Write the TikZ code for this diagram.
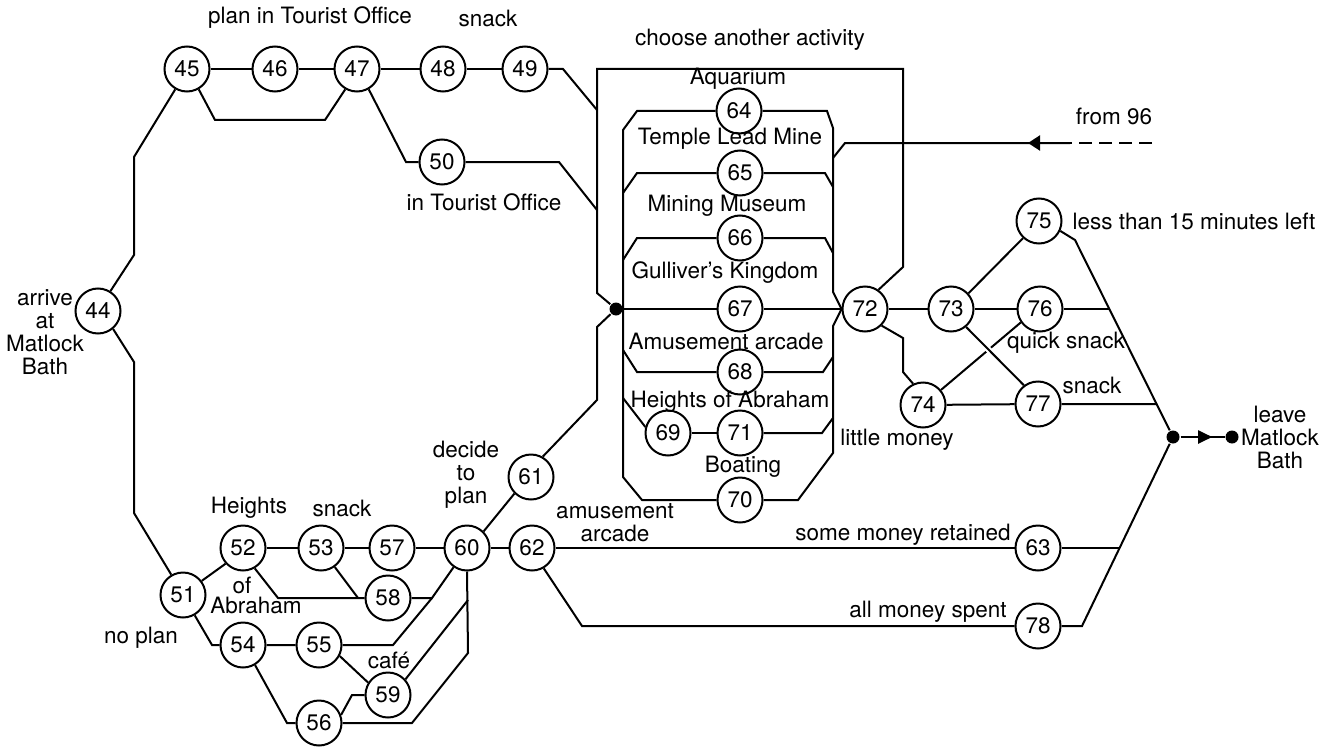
\documentclass[tikz,border=0pt]{standalone}
\usepackage{fontspec}
\setmainfont{TeX Gyre Heros}
\usetikzlibrary{arrows.meta,decorations.markings}
\newcommand\dfont{\fontsize{11.25pt}{11.5pt}\selectfont}
\begin{document}
\begin{tikzpicture}[x=0.5pt,y=-0.5pt,line width=1pt,
  st/.style={circle,draw,minimum size=22.5pt,inner sep=0pt,font=\dfont},
  lbl/.style={inner sep=0pt,align=center,font=\dfont},
  jdot/.style={circle,fill,inner sep=0pt,minimum size=6.5pt},
  midtri/.style={postaction={decorate},decoration={markings,mark=at position #1 with {\arrow{Triangle[length=7pt,width=6.5pt]}}}},
]
\useasboundingbox (0,0) rectangle (1321,749);
% nodes
\node[st] (n44) at (98,311) {44};
\node[st] (n45) at (187,69) {45};
\node[st] (n46) at (275,69) {46};
\node[st] (n47) at (357,69) {47};
\node[st] (n48) at (443,69) {48};
\node[st] (n49) at (525,69) {49};
\node[st] (n50) at (442,162) {50};
\node[st] (n51) at (183,595) {51};
\node[st] (n52) at (243,548) {52};
\node[st] (n53) at (321,548) {53};
\node[st] (n57) at (392,548) {57};
\node[st] (n60) at (467,548) {60};
\node[st] (n62) at (532,548) {62};
\node[st] (n58) at (388,598) {58};
\node[st] (n54) at (243,645) {54};
\node[st] (n55) at (319,645) {55};
\node[st] (n59) at (388,695) {59};
\node[st] (n56) at (319,723) {56};
\node[st] (n61) at (531,477) {61};
\node[st] (n63) at (1038,548) {63};
\node[st] (n78) at (1038,626) {78};
\node[st] (n64) at (739,111) {64};
\node[st] (n65) at (740,173) {65};
\node[st] (n66) at (740,238) {66};
\node[st] (n67) at (740,309) {67};
\node[st] (n68) at (740,372) {68};
\node[st] (n69) at (668,433) {69};
\node[st] (n71) at (740,433) {71};
\node[st] (n70) at (740,500) {70};
\node[st] (n72) at (865,309) {72};
\node[st] (n73) at (951,309) {73};
\node[st] (n76) at (1040,309) {76};
\node[st] (n75) at (1039,221) {75};
\node[st] (n74) at (923,405) {74};
\node[st] (n77) at (1038,404) {77};
\node[jdot] (dot) at (616,309) {};
\node[jdot] (jd) at (1173,437) {};
\node[jdot] (ed) at (1232,437) {};
\coordinate (f96) at (1152,143);
\coordinate (f96s) at (1070,143);
\coordinate (ir1) at (833,158);
% labels
\node[lbl] at (310,18) {plan in Tourist Office};
\node[lbl] at (488,18) {snack};
\node[lbl] at (750,40) {choose another activity};
\node[lbl] at (484,202) {in Tourist Office};
\node[lbl] at (45,332) {arrive\\at\\Matlock\\Bath};
\node[lbl] at (141,638) {no plan};
\node[lbl] at (249,508) {Heights};
\node[lbl] at (242,585) {of};
\node[lbl] at (256,605) {Abraham};
\node[lbl] at (342,508) {snack};
\node[lbl] at (389,660) {café};
\node[lbl] at (466,475) {decide\\to\\plan};
\node[lbl] at (615,523) {amusement\\arcade};
\node[lbl] at (903,535) {some money retained};
\node[lbl] at (928,612) {all money spent};
\node[lbl] at (738,79) {Aquarium};
\node[lbl] at (730,139) {Temple Lead Mine};
\node[lbl] at (727,206) {Mining Museum};
\node[lbl] at (725,273) {Gulliver’s Kingdom};
\node[lbl] at (726,341) {Amusement arcade};
\node[lbl] at (730,402) {Heights of Abraham};
\node[lbl] at (743,467) {Boating};
\node[lbl] at (897,440) {little money};
\node[lbl] at (1194,221) {less than 15 minutes left};
\node[lbl] at (1066,343) {quick snack};
\node[lbl] at (1092,385) {snack};
\node[lbl] at (1114,116) {from 96};
\node[lbl] at (1280,437) {leave\\Matlock\\Bath};
% connectors: left
\draw (n44.58) -- (134,255) -- (134,157) -- (n45.240);
\draw (n44.-50) -- (134,362) -- (134,513) -- (n51.120);
\draw (n45) -- (n46) -- (n47) -- (n48) -- (n49);
\draw (n45.-60) -- (215,120) -- (325,120) -- (n47.240);
\draw (n47.-60) -- (406,162) -- (n50);
\draw (n50) -- (559,162) -- (597,210);
\draw (n49) -- (563,69) -- (597,110);
% outer box
\draw (dot) -- (597,293) -- (597,69) -- (903,69) -- (903,267) -- (n72.55);
\draw (dot) -- (597,327) -- (597,400) -- (n61.60);
% inner box
\draw (dot) -- (n67) -- (n72);
\draw (n64) -- (637,111) -- (623,130) -- (623,477) -- (642,500) -- (n70);
\draw (n65) -- (637,173) -- (623,193);
\draw (n66) -- (637,238) -- (623,260);
\draw (n68) -- (637,372) -- (623,350);
\draw (n69.165) -- (623,398);
\draw (n69) -- (n71);
\draw (n64) -- (827,111) -- (833,128) -- (833,292) -- (n72.west);
\draw (n65) -- (825,173) -- (833,187);
\draw (n66) -- (825,238) -- (833,253);
\draw (n72.west) -- (833,326) -- (833,453) -- (798,500) -- (n70);
\draw (n68) -- (823,372) -- (833,357);
\draw (n71) -- (822,433) -- (833,418);
% from 96
\draw[dash pattern=on 6.5pt off 3.5pt] (f96) -- (f96s);
\draw[postaction={decorate},decoration={markings,mark=at position 21pt with {\arrow{Triangle[length=6pt,width=7.5pt]}}}] (f96s) -- (845,143) -- (ir1);
% right part
\draw (n72) -- (n73) -- (n76) -- (1109,309);
\draw (n73.42) -- (n75.227);
\draw (n72.-45) -- (903,338) -- (903,372) -- (n74.115);
\draw (n74.40) -- (n76.215);
\draw[preaction={draw=white,line width=3pt,shorten <=10pt,shorten >=19pt}] (n73.-50) -- (n77.127);
\draw (n74) -- (n77) -- (1157,404);
\draw (n75.-25) -- (1075,240) -- (jd);
\draw (n63) -- (1119,548);
\draw (n78) -- (1082,626) -- (jd);
\draw[midtri=0.72] (jd) -- (ed);
% lower part
\draw (n60.45) -- (n61.225);
\draw (n60) -- (n62) -- (n63);
\draw (n62.-60) -- (582,626) -- (n78);
\draw (n51.37) -- (n52.222);
\draw (n51.-60) -- (212,645) -- (n54);
\draw (n52) -- (n53) -- (n57) -- (n60);
\draw (n52.-60) -- (278,598) -- (n58);
\draw (n53.-54) -- (358,598);
\draw (n58) -- (432,598) -- (n60.235);
\draw (n54) -- (n55) -- (393,645) -- (432,598);
\draw (n54.-59) -- (287,723) -- (n56);
\draw (n55.-28) -- (n59.148);
\draw (n56.20) -- (352,695) -- (n59);
\draw (n59.42) -- (468,600);
\draw (n60.south) -- (468,653) -- (412,723) -- (n56);
\end{tikzpicture}
\end{document}
